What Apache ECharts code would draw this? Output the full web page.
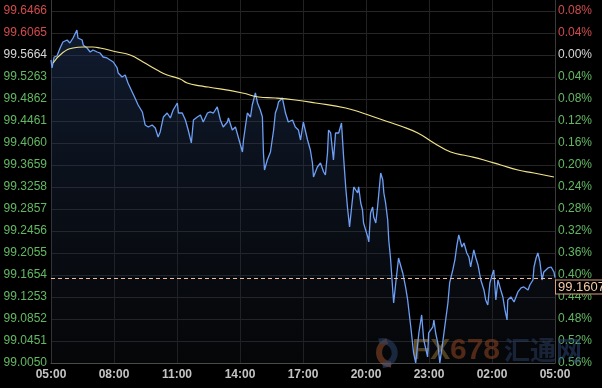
<!DOCTYPE html>
<html>
<head>
<meta charset="utf-8">
<script src="https://cdn.jsdelivr.net/npm/echarts@6/dist/echarts.min.js"></script>
<style>
html,body{margin:0;padding:0;background:#000;}
#chart{width:602px;height:388px;}
</style>
</head>
<body>
<div id="chart"></div>
<script>
// time in minutes after 05:00
var times = [0,3,9,17,26,34,46,54,63,74,77,89,92,103,112,120,132,140,149,160,169,178,189,192,203,212,220,232,240,249,261,269,278,289,298,306,312,321,332,341,349,361,364,375,384,392,401,407,418,427,435,447,455,464,475,484,492,504,507,518,527,535,547,550,561,570,575,584,590,598,604,607,610,618,627,636,641,647,650,661,670,678,690,698,707,713,721,733,741,747,750,761,770,779,784,790,793,799,807,813,822,830,836,842,847,850,853,862,865,876,879,885,890,893,899,905,908,913,919,922,928,933,942,948,951,956,962,965,970,979,985,993,1005,1013,1019,1028,1036,1042,1051,1059,1065,1076,1079,1091,1094,1099,1105,1111,1119,1125,1134,1139,1148,1154,1159,1165,1174,1180,1188,1194,1199,1208,1214,1220,1228,1237,1242,1248,1254,1262,1265,1271,1277,1285,1291,1297,1303,1305,1314,1323,1334,1343,1351,1363,1368,1377,1380,1386,1391,1397,1403,1408,1420,1429,1437,1440];
var prices = [99.5573,99.5428,99.5628,99.5646,99.5792,99.5901,99.5938,99.5883,99.5974,99.6120,99.5974,99.5938,99.5847,99.5792,99.5719,99.5756,99.5719,99.5701,99.5628,99.5610,99.5573,99.5537,99.5428,99.5336,99.5264,99.5300,99.5154,99.4990,99.4881,99.4753,99.4626,99.4389,99.4352,99.4389,99.4334,99.4170,99.4261,99.4534,99.4607,99.4516,99.4662,99.4790,99.4607,99.4607,99.4480,99.4297,99.4061,99.4480,99.4534,99.4571,99.4443,99.4607,99.4626,99.4607,99.4717,99.4480,99.4352,99.4443,99.4516,99.4297,99.4352,99.4170,99.3896,99.4115,99.4607,99.4534,99.4753,99.4972,99.4790,99.4662,99.4534,99.3878,99.3568,99.3751,99.3896,99.4297,99.4607,99.4717,99.4808,99.4881,99.4607,99.4443,99.4480,99.4352,99.4297,99.4115,99.4443,99.4115,99.3933,99.3696,99.3441,99.3623,99.3696,99.3532,99.3477,99.3878,99.4297,99.4243,99.3751,99.4243,99.4243,99.4425,99.3805,99.3259,99.2894,99.2712,99.2530,99.3076,99.3259,99.3149,99.3259,99.2967,99.2839,99.2602,99.2475,99.2347,99.2256,99.2785,99.2894,99.2712,99.2602,99.2894,99.3514,99.3386,99.3149,99.2967,99.2657,99.2293,99.1964,99.1144,99.1509,99.1964,99.1691,99.1436,99.1199,99.0707,99.0233,99.0051,99.0597,99.0926,99.0470,99.0160,99.0597,99.0707,99.0834,99.0597,99.0415,99.0051,99.0415,99.0707,99.1144,99.1509,99.1746,99.1928,99.2165,99.2384,99.2165,99.2238,99.2056,99.1983,99.1800,99.2110,99.1964,99.1837,99.1563,99.1381,99.1199,99.1108,99.1509,99.1691,99.1746,99.1199,99.1563,99.1381,99.1254,99.1017,99.0834,99.1199,99.1254,99.1162,99.1345,99.1418,99.1436,99.1381,99.1472,99.1563,99.1800,99.1964,99.2056,99.1892,99.1563,99.1709,99.1782,99.1800,99.1709,99.1607];
var maTimes = [6,34,63,92,120,140,189,226,263,303,332,369,389,427,449,547,593,641,698,756,842,890,948,999,1048,1094,1142,1191,1237,1285,1334,1380,1437];
var maValues = [99.5519,99.5710,99.5792,99.5810,99.5810,99.5792,99.5719,99.5665,99.5537,99.5391,99.5300,99.5227,99.5154,99.5100,99.5081,99.4972,99.4899,99.4881,99.4844,99.4790,99.4699,99.4607,99.4480,99.4370,99.4243,99.4061,99.3896,99.3824,99.3751,99.3660,99.3568,99.3514,99.3441];
var timeLabels = ['05:00','08:00','11:00','14:00','17:00','20:00','23:00','02:00','05:00'];
var priceLabels = ['99.0050','99.0451','99.0852','99.1253','99.1654','99.2055','99.2456','99.2857','99.3258','99.3659','99.4060','99.4461','99.4862','99.5263','99.5664','99.6065','99.6466'];
var pctLabels = ['0.56%','0.52%','0.48%','0.44%','0.40%','0.36%','0.32%','0.28%','0.24%','0.20%','0.16%','0.12%','0.08%','0.04%','0.00%','0.04%','0.08%'];
var lastPrice = 99.1607;
var baseIndex = 14;
var yMin = 99.0050, yMax = 99.6667, yStep = 0.0401;

function idxOf(v){ return Math.round((parseFloat(v) - yMin) / yStep); }
function labelColor(v){
  var i = idxOf(v);
  if (i > baseIndex) return '#d24b4b';
  if (i === baseIndex) return '#d6d6d6';
  return '#62b862';
}

var chart = echarts.init(document.getElementById('chart'));
var fontFam = 'Arial, "Liberation Sans", sans-serif';
chart.setOption({
  backgroundColor: '#000',
  animation: false,
  grid: {left: 51, right: 47, top: 0, bottom: 25},
  xAxis: {
    type: 'value', min: 0, max: 1440, interval: 180,
    axisLine: {show: true, lineStyle: {color: '#4a4a4a'}},
    axisTick: {show: false},
    splitLine: {show: true, lineStyle: {color: '#222'}},
    axisLabel: {
      margin: 6, color: '#c4c4c4', fontSize: 12, fontWeight: 'bold', fontFamily: fontFam,
      formatter: function(v){ return timeLabels[Math.round(v/180)] || ''; }
    }
  },
  yAxis: [{
    type: 'value', position: 'left', min: yMin, max: yMax, interval: yStep,
    axisLine: {show: true, lineStyle: {color: '#3a3a3a'}},
    axisTick: {show: false},
    splitLine: {show: true, showMaxLine: false, lineStyle: {color: '#262626'}},
    axisLabel: {
      margin: 4, fontSize: 12, fontFamily: fontFam, showMaxLabel: true,
      color: labelColor,
      formatter: function(v){ return priceLabels[idxOf(v)] || ''; }
    }
  },{
    type: 'value', position: 'right', min: yMin, max: yMax, interval: yStep,
    axisLine: {show: true, lineStyle: {color: '#3a3a3a'}},
    axisTick: {show: false},
    splitLine: {show: false},
    axisLabel: {
      margin: 3, fontSize: 12, fontFamily: fontFam,
      color: labelColor,
      formatter: function(v){ return pctLabels[idxOf(v)] || ''; }
    }
  }],
  series: [{
    type: 'line',
    data: times.map(function(t, i){ return [t, prices[i]]; }),
    showSymbol: false,
    lineStyle: {color: '#6d9ff5', width: 1.3},
    itemStyle: {color: '#6d9ff5'},
    areaStyle: {
      origin: 'start',
      color: new echarts.graphic.LinearGradient(0, 0, 0, 1, [
        {offset: 0, color: 'rgba(36,60,104,0.65)'},
        {offset: 1, color: 'rgba(22,26,34,0.35)'}
      ])
    },
    markLine: {
      silent: true, symbol: 'none',
      lineStyle: {type: [4, 3], color: '#eebd9c', width: 1},
      label: {
        show: true, position: 'end', distance: 1,
        formatter: function(){ return '\n{b|' + lastPrice.toFixed(4) + '}'; },
        lineHeight: 18,
        rich: {
          b: {
            color: '#f4c9a8', fontSize: 13, fontFamily: fontFam, lineHeight: 18,
            backgroundColor: '#000', borderColor: '#d9a07a', borderWidth: 1,
            padding: [0, 2, 0, 2]
          }
        }
      },
      data: [{yAxis: lastPrice}]
    },
    z: 3
  },{
    type: 'line',
    data: maTimes.map(function(t, i){ return [t, maValues[i]]; }),
    showSymbol: false, smooth: true,
    lineStyle: {color: '#efe287', width: 1.2},
    itemStyle: {color: '#efe287'},
    z: 4
  }],
  graphic: [
    {type: 'arc', left: 376, top: 338, shape: {cx: 0, cy: 0, r: 12, startAngle: Math.PI*0.5, endAngle: Math.PI*1.4}, style: {fill: null, stroke: 'rgba(190,90,40,0.55)', lineWidth: 6}, silent: true, z: 1},
    {type: 'arc', left: 376, top: 338, shape: {cx: 0, cy: 0, r: 12, startAngle: Math.PI*1.4, endAngle: Math.PI*2.5}, style: {fill: null, stroke: 'rgba(50,80,130,0.55)', lineWidth: 6}, silent: true, z: 1},
    {type: 'text', left: 412, top: 336, style: {text: 'FX', font: 'bold 30px Arial, "Liberation Sans", sans-serif', fill: 'rgba(165,125,50,0.6)'}, silent: true, z: 1},
    {type: 'text', left: 450, top: 336, style: {text: '678', font: 'bold 30px Arial, "Liberation Sans", sans-serif', fill: 'rgba(170,75,30,0.6)'}, silent: true, z: 1},
    {type: 'text', left: 504, top: 337, style: {text: '汇通网', font: 'bold 26px "Noto Sans CJK SC", sans-serif', fill: 'rgba(45,70,115,0.55)'}, silent: true, z: 1}
  ]
});
</script>
</body>
</html>
